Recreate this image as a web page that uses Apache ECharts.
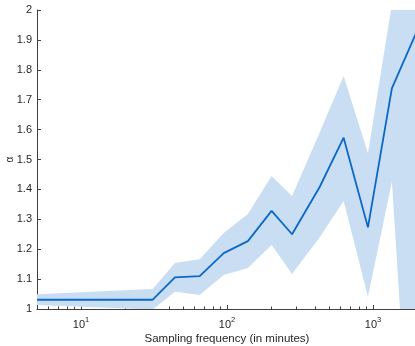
<!DOCTYPE html>
<html>
<head>
<meta charset="utf-8">
<script src="https://cdn.jsdelivr.net/npm/echarts@6/dist/echarts.min.js"></script>
<style>
  html, body { margin: 0; padding: 0; background: #fff; }
  #main { width: 415px; height: 346px; }
</style>
</head>
<body>
<div id="main"></div>
<script>
// sampling frequency (minutes) and fitted alpha with its band
var freq  = [5, 31, 44, 65, 95, 139, 202, 279, 431, 629, 923, 1346, 2000];
var alpha = [1.031, 1.031, 1.106, 1.110, 1.187, 1.227, 1.328, 1.250, 1.408, 1.573, 1.273, 1.738, 1.93];
var lower = [1.013, 0.998, 1.058, 1.047, 1.114, 1.137, 1.214, 1.117, 1.240, 1.361, 1.041, 1.426, 0.107];
var upper = [1.049, 1.067, 1.154, 1.166, 1.254, 1.318, 1.445, 1.378, 1.590, 1.779, 1.521, 2.02, 2.5];

var majorTicks = [10, 100, 1000];
var minorTicks = [6, 7, 8, 9, 20, 30, 40, 50, 60, 70, 80, 90, 200, 300, 400, 500, 600, 700, 800, 900];

var textColor = "#262626";
var axisColor = "#404040";
var font = "Liberation Sans";

var myChart = echarts.init(document.getElementById("main"), null, { renderer: "canvas" });

var option = {
  animation: false,
  grid: { left: 37, right: -2, top: 10, bottom: 37, containLabel: false, outerBoundsMode: "none" },
  xAxis: [
    {
      type: "log",
      logBase: 10,
      min: 5,
      max: 2000,
      position: "bottom",
      name: "Sampling frequency (in minutes)",
      nameLocation: "middle",
      nameGap: 24,
      nameMoveOverlap: false,
      nameTextStyle: { color: textColor, fontSize: 11.5, fontFamily: font },
      axisLine: { lineStyle: { color: axisColor, width: 1 } },
      axisTick: { inside: true, length: 4, customValues: majorTicks, lineStyle: { color: axisColor } },
      axisLabel: {
        customValues: majorTicks,
        margin: 7,
        color: textColor,
        fontFamily: font,
        formatter: function (v) {
          return "{b|10}{s|" + Math.round(Math.log10(v)) + "}";
        },
        rich: {
          b: { fontSize: 11, fontFamily: font, color: textColor, verticalAlign: "bottom", lineHeight: 14 },
          s: { fontSize: 7.5, fontFamily: font, color: textColor, verticalAlign: "top", lineHeight: 14 }
        }
      },
      splitLine: { show: false }
    },
    {
      // second axis only for the minor ticks
      type: "log",
      logBase: 10,
      min: 5,
      max: 2000,
      position: "bottom",
      axisLine: { show: false },
      axisTick: { inside: true, length: 2.5, customValues: minorTicks, lineStyle: { color: axisColor } },
      axisLabel: { show: false },
      splitLine: { show: false }
    }
  ],
  yAxis: {
    type: "value",
    min: 1,
    max: 2,
    interval: 0.1,
    name: "α",
    nameLocation: "middle",
    nameRotate: 90,
    nameGap: 22,
    nameMoveOverlap: false,
    nameTextStyle: { color: textColor, fontSize: 10, fontFamily: font },
    axisLine: { show: true, lineStyle: { color: axisColor, width: 1 } },
    axisTick: { show: true, inside: true, length: 4, lineStyle: { color: axisColor } },
    axisLabel: {
      margin: 5,
      color: textColor,
      fontSize: 11,
      fontFamily: font,
      formatter: function (v) {
        return String(Math.round(v * 10) / 10);
      }
    },
    splitLine: { show: false }
  },
  series: [
    {
      // shaded band between lower and upper
      type: "custom",
      clip: true,
      silent: true,
      data: freq.map(function (f, i) { return [f, alpha[i]]; }),
      encode: { x: 0, y: 1 },
      renderItem: function (params, api) {
        if (params.dataIndex !== 0) return;
        var pts = [];
        for (var i = 0; i < freq.length; i++) pts.push(api.coord([freq[i], upper[i]]));
        for (var j = freq.length - 1; j >= 0; j--) pts.push(api.coord([freq[j], lower[j]]));
        return {
          type: "polygon",
          shape: { points: pts },
          style: { fill: "#c9def3", stroke: null }
        };
      },
      z: 1
    },
    {
      type: "line",
      data: freq.map(function (f, i) { return [f, alpha[i]]; }),
      symbol: "none",
      clip: true,
      lineStyle: { color: "#0a68c8", width: 1.8 },
      z: 2
    }
  ]
};
myChart.setOption(option);
</script>
</body>
</html>
